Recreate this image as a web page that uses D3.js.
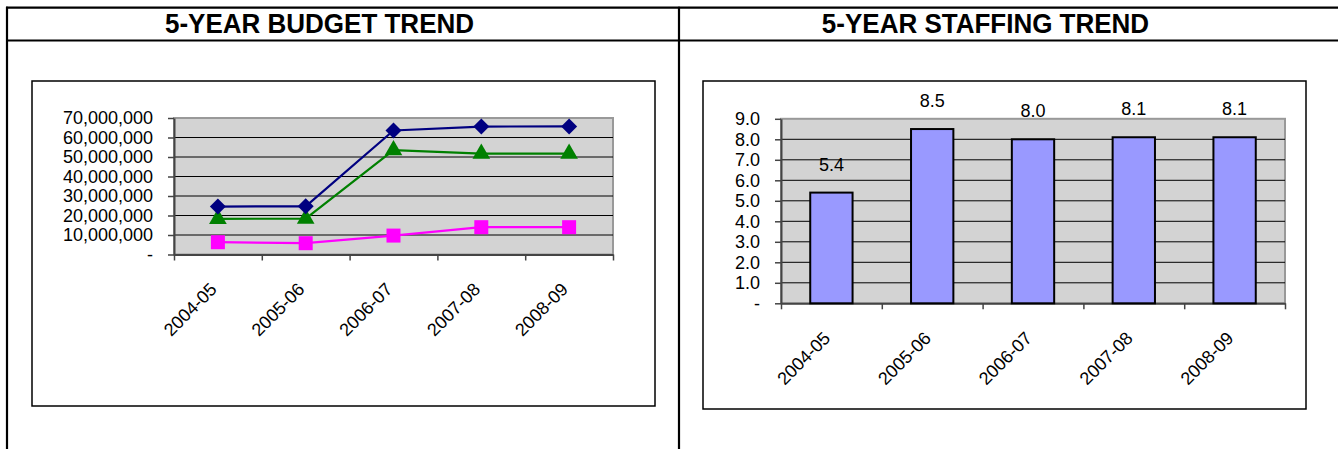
<!DOCTYPE html>
<html>
<head>
<meta charset="utf-8">
<script src="https://cdn.jsdelivr.net/npm/d3@7/dist/d3.min.js"></script>
<style>
  body { margin: 0; background: #fff; }
  svg text { font-family: "Liberation Sans", Arial, sans-serif; fill: #000; }
</style>
</head>
<body>
<svg id="page" width="1338" height="449"></svg>
<script>
// ---- data ----
const years = ['2004-05', '2005-06', '2006-07', '2007-08', '2008-09'];
const budgetTotal = [24600000, 24700000, 63600000, 65600000, 65700000];
const budgetMid = [18300000, 18400000, 53500000, 51700000, 51700000];
const budgetLow = [6300000, 5800000, 9700000, 14000000, 14000000];
const budgetTicks = [0, 10000000, 20000000, 30000000, 40000000, 50000000, 60000000, 70000000];
const staffing = [5.4, 8.5, 8.0, 8.1, 8.1];
const staffTicks = [0, 1, 2, 3, 4, 5, 6, 7, 8, 9];
const titles = ['5-YEAR BUDGET TREND', '5-YEAR STAFFING TREND'];

const svg = d3.select('#page');

// table lines around the two cells
const table = svg.append('g').attr('stroke', '#000').attr('stroke-width', 2.2);
table.append('line').attr('x1', 6).attr('x2', 1338).attr('y1', 7.7).attr('y2', 7.7);
table.append('line').attr('x1', 6).attr('x2', 1338).attr('y1', 40.5).attr('y2', 40.5);
table.append('line').attr('x1', 7).attr('x2', 7).attr('y1', 6.7).attr('y2', 449);
table.append('line').attr('x1', 679).attr('x2', 679).attr('y1', 6.7).attr('y2', 449);

svg.selectAll('text.title')
  .data(titles)
  .join('text')
  .attr('class', 'title')
  .attr('transform', (d, i) => `translate(${i === 0 ? 319.5 : 985.5},33) scale(1,1.06)`)
  .attr('text-anchor', 'middle')
  .style('font-size', '26px')
  .style('font-weight', 'bold')
  .text(d => d);

// chart frames
svg.append('rect').attr('x', 32).attr('y', 81).attr('width', 623).attr('height', 325)
  .attr('fill', 'none').attr('stroke', '#000').attr('stroke-width', 1.5);
svg.append('rect').attr('x', 703).attr('y', 81).attr('width', 603).attr('height', 328)
  .attr('fill', 'none').attr('stroke', '#000').attr('stroke-width', 1.5);

// shared plot area: gray box, grid, axes, rotated category labels
function drawPlot(box, y, ticks, fmt) {
  const g = svg.append('g');
  const x = d3.scaleBand().domain(years).range([box.x0, box.x1]);

  g.append('rect')
    .attr('x', box.x0).attr('y', box.y0)
    .attr('width', box.x1 - box.x0).attr('height', box.y1 - box.y0)
    .attr('fill', '#d3d3d3').attr('stroke', '#999').attr('stroke-width', 2);

  g.selectAll('line.grid')
    .data(ticks.slice(1, -1))
    .join('line')
    .attr('class', 'grid')
    .attr('x1', box.x0).attr('x2', box.x1)
    .attr('y1', d => y(d)).attr('y2', d => y(d))
    .attr('stroke', '#000').attr('stroke-width', 1);

  const yAxis = g.append('g')
    .attr('transform', `translate(${box.x0},0)`)
    .call(d3.axisLeft(y).tickValues(ticks).tickFormat(fmt).tickSize(6).tickPadding(15).tickSizeOuter(0));
  yAxis.select('.domain').attr('stroke', '#444').attr('stroke-width', 2);
  yAxis.selectAll('.tick line').attr('stroke', '#444').attr('stroke-width', 1.5);
  yAxis.selectAll('.tick text').style('font-size', '18px');

  // ticks at category edges
  const edge = d3.scaleLinear().domain([0, years.length]).range([box.x0, box.x1]);
  const xAxis = g.append('g')
    .attr('transform', `translate(0,${box.y1})`)
    .call(d3.axisBottom(edge).tickValues(d3.range(years.length + 1)).tickFormat('').tickSize(6).tickSizeOuter(0));
  xAxis.select('.domain').attr('stroke', '#444').attr('stroke-width', 2);
  xAxis.selectAll('.tick line').attr('stroke', '#444').attr('stroke-width', 1.5);

  g.selectAll('text.cat')
    .data(years)
    .join('text')
    .attr('class', 'cat')
    .attr('text-anchor', 'end')
    .attr('transform', d => `translate(${x(d) + x.bandwidth() / 2},${box.y1 + 36}) rotate(-45)`)
    .style('font-size', '18px')
    .text(d => d);

  return { g, x, yAxis };
}

// ---- budget line chart ----
const bBox = { x0: 174, x1: 613, y0: 118, y1: 254.5 };
const yB = d3.scaleLinear().domain([0, 70000000]).range([bBox.y1, bBox.y0]);
const budget = drawPlot(bBox, yB, budgetTicks, d => d === 0 ? '-' : d3.format(',')(d));
const xB = budget.x;
const cx = i => xB(years[i]) + xB.bandwidth() / 2;

const series = [
  { values: budgetLow, color: '#ff00ff', symbol: d3.symbolSquare, size: 196, rot: 0 },
  { values: budgetMid, color: '#008000', symbol: d3.symbolTriangle, size: 135, rot: 0 },
  { values: budgetTotal, color: '#000080', symbol: d3.symbolSquare, size: 128, rot: 45 }
];
const line = d3.line().x((d, i) => cx(i)).y(d => yB(d));
series.forEach(s => {
  const sg = budget.g.append('g');
  sg.append('path')
    .datum(s.values)
    .attr('d', line)
    .attr('fill', 'none')
    .attr('stroke', s.color)
    .attr('stroke-width', 2.2);
  sg.selectAll('path.mark')
    .data(s.values)
    .join('path')
    .attr('class', 'mark')
    .attr('d', d3.symbol(s.symbol, s.size))
    .attr('transform', (d, i) => `translate(${cx(i)},${yB(d)}) rotate(${s.rot})`)
    .attr('fill', s.color);
});

// ---- staffing bar chart ----
const sBox = { x0: 781, x1: 1285, y0: 118.8, y1: 303.3 };
const yS = d3.scaleLinear().domain([0, 9]).range([sBox.y1, sBox.y0]);
const staff = drawPlot(sBox, yS, staffTicks, d => d === 0 ? '-' : d3.format('.1f')(d));
// zero label sits indented like the accounting format
staff.yAxis.selectAll('.tick').filter(d => d === 0).select('text').attr('x', -21).attr('text-anchor', 'end');
const xS = staff.x;
const barW = xS.bandwidth() * 0.42;

staff.g.selectAll('rect.bar')
  .data(staffing)
  .join('rect')
  .attr('class', 'bar')
  .attr('x', (d, i) => xS(years[i]) + (xS.bandwidth() - barW) / 2)
  .attr('y', d => yS(d))
  .attr('width', barW)
  .attr('height', d => yS(0) - yS(d))
  .attr('fill', '#9999ff')
  .attr('stroke', '#000')
  .attr('stroke-width', 2);

staff.g.selectAll('text.val')
  .data(staffing)
  .join('text')
  .attr('class', 'val')
  .attr('x', (d, i) => xS(years[i]) + xS.bandwidth() / 2)
  .attr('y', d => yS(d) - 22)
  .attr('text-anchor', 'middle')
  .style('font-size', '18px')
  .text(d => d3.format('.1f')(d));
</script>
</body>
</html>
